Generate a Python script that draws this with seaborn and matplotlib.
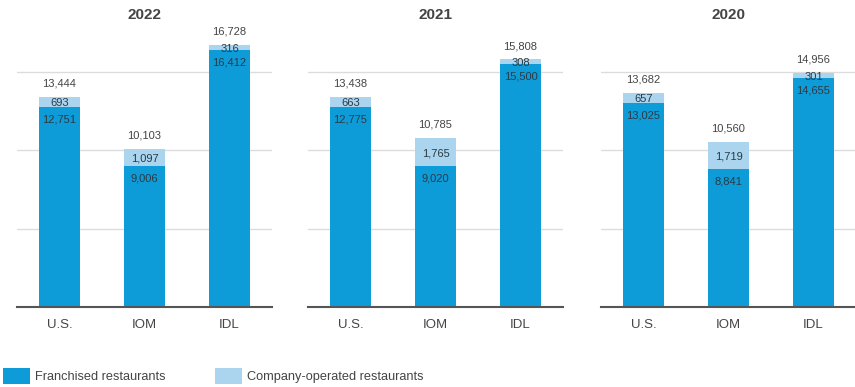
import matplotlib
matplotlib.use("Agg")
import matplotlib.pyplot as plt
from matplotlib.patches import Patch
import pandas as pd
import seaborn as sns

# Restaurant counts by segment
years = ["2022", "2021", "2020"]
segments = ["U.S.", "IOM", "IDL"]
franchised = {
    "2022": [12751, 9006, 16412],
    "2021": [12775, 9020, 15500],
    "2020": [13025, 8841, 14655],
}
company_operated = {
    "2022": [693, 1097, 316],
    "2021": [663, 1765, 308],
    "2020": [657, 1719, 301],
}

DARK = "#0E9CD8"
LIGHT = "#ABD5EF"
TEXT = "#444444"
INNER_TEXT = "#2B3A45"

sns.set_theme(style="white")
plt.rcParams["font.family"] = ["Liberation Sans", "DejaVu Sans"]

fig = plt.figure(figsize=(8.55, 3.87), dpi=100)
W, H = 855, 387
lefts = [17, 308, 601]
panel_w = 255
bottom_px = 307
top_px = 33

for year, left in zip(years, lefts):
    ax = fig.add_axes([left / W, (H - bottom_px) / H, panel_w / W, (bottom_px - top_px) / H])
    df = pd.DataFrame({
        "segment": segments,
        "franchised": franchised[year],
        "company": company_operated[year],
    })
    df["total"] = df["franchised"] + df["company"]

    # stacked bars: total in light, franchised drawn on top in dark
    sns.barplot(data=df, x="segment", y="total", order=segments, color=LIGHT,
                saturation=1, width=0.48, ax=ax, linewidth=0)
    sns.barplot(data=df, x="segment", y="franchised", order=segments, color=DARK,
                saturation=1, width=0.48, ax=ax, linewidth=0)

    for i, row in df.iterrows():
        ax.annotate(f"{row['total']:,}", (i, row["total"]), xytext=(0, 9.5),
                    textcoords="offset points", ha="center", va="center",
                    fontsize=8, color=TEXT)
        ax.annotate(f"{row['company']:,}", (i, row["franchised"] + row["company"] / 2),
                    xytext=(0, -1), textcoords="offset points", ha="center", va="center",
                    fontsize=8, color=INNER_TEXT)
        ax.annotate(f"{row['franchised']:,}", (i, row["franchised"]), xytext=(0, -9),
                    textcoords="offset points", ha="center", va="center",
                    fontsize=8, color=INNER_TEXT)

    ax.set_xlim(-0.5, 2.5)
    ax.set_ylim(0, 17500)
    ax.set_yticks([5000, 10000, 15000])
    ax.set_yticklabels([])
    ax.yaxis.grid(True, color="#DCDCDC", linewidth=1)
    ax.set_axisbelow(True)
    ax.set_xlabel("")
    ax.set_ylabel("")
    ax.tick_params(axis="both", length=0)
    ax.tick_params(axis="x", pad=9, labelsize=9.5, labelcolor=TEXT)
    for side in ["top", "left", "right"]:
        ax.spines[side].set_visible(False)
    ax.spines["bottom"].set_color("#555555")
    ax.spines["bottom"].set_linewidth(1.5)
    ax.set_title(year, fontsize=11, color=TEXT, fontweight="bold", pad=10)

handles = [Patch(facecolor=DARK, edgecolor="none", label="Franchised restaurants"),
           Patch(facecolor=LIGHT, edgecolor="none", label="Company-operated restaurants")]
fig.legend(handles=handles, loc="center left", bbox_to_anchor=(3 / W, 1 - 376 / H),
           ncol=2, frameon=False, fontsize=9.2, handlelength=2.1, handleheight=1.55,
           handletextpad=0.4, columnspacing=3.9, borderpad=0, borderaxespad=0,
           labelcolor=TEXT)

fig.savefig("out.png", dpi=100)
